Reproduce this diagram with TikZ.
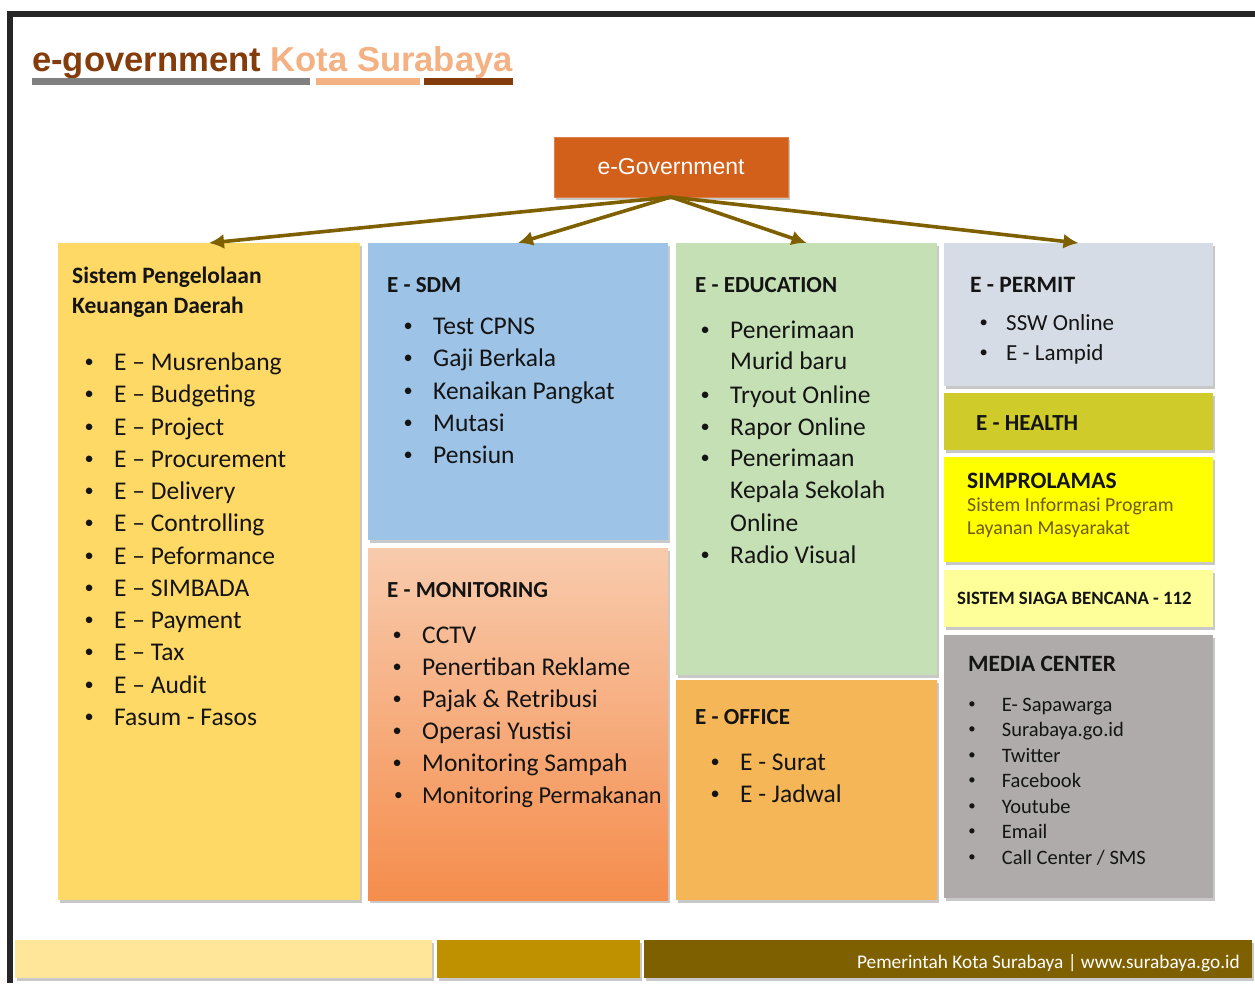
\documentclass[tikz,border=0pt]{standalone}
\usepackage{graphicx}
\usepackage{fontspec}
\setmainfont{Carlito}
\newfontfamily\arialfont{Liberation Sans}
\usetikzlibrary{arrows.meta,positioning,shadows}

\definecolor{frameC}{HTML}{262626}
\definecolor{titleA}{HTML}{843C0C}
\definecolor{titleB}{HTML}{F4B183}
\definecolor{barGray}{HTML}{808080}
\definecolor{egovC}{HTML}{D2601A}
\definecolor{arrowC}{HTML}{7F6000}
\definecolor{keuC}{HTML}{FFD966}
\definecolor{sdmC}{HTML}{9DC3E6}
\definecolor{monTop}{HTML}{F8CBAD}
\definecolor{monBot}{HTML}{F58D4C}
\definecolor{eduC}{HTML}{C5E0B4}
\definecolor{offC}{HTML}{F4B657}
\definecolor{permC}{HTML}{D6DCE5}
\definecolor{healthC}{HTML}{CFCB2A}
\definecolor{simC}{HTML}{FFFF00}
\definecolor{simT}{HTML}{6E5A12}
\definecolor{siagaC}{HTML}{FFFF99}
\definecolor{mediaC}{HTML}{AFABAB}
\definecolor{footA}{HTML}{FFE699}
\definecolor{footB}{HTML}{BF9000}
\definecolor{footC}{HTML}{7F6000}
\definecolor{txt}{HTML}{141414}

\newcommand{\bul}[1][0.8em]{\llap{\raisebox{0.1em}{\scalebox{0.72}{\textbullet}}\hspace{#1}}}

\begin{document}
\begin{tikzpicture}[x=1pt,y=-1pt,
    box/.style={anchor=north west,inner sep=0pt,outer sep=0pt,
      drop shadow={shadow xshift=1.5pt,shadow yshift=-2.5pt,opacity=0.3,fill=black!70}},
    bar/.style={anchor=north west,inner sep=0pt,outer sep=0pt,minimum height=7pt},
    hdr/.style={anchor=base west,inner sep=0pt,text=txt,font=\fontsize{23}{28}\selectfont\bfseries},
    itm/.style={anchor=base west,inner sep=0pt,text=txt,font=\fontsize{25.5}{31}\selectfont},
    branch/.style={-{Latex[length=15pt,width=15pt]},line width=3.6pt,draw=arrowC}]
  \useasboundingbox[fill=white] (0,0) rectangle (1255,983);

  % frame
  \draw[line width=6pt,frameC] (10,983) -- (10,14) -- (1255,14);

  % title
  \node[anchor=base west,inner sep=0pt,font=\arialfont\bfseries\fontsize{34.6}{38}\selectfont] (title) at (32,71)
    {\textcolor{titleA}{e-government} \textcolor{titleB}{Kota Surabaya}};
  \node[bar,fill=barGray,minimum width=278pt] (bar1) at (32,78) {};
  \node[bar,fill=titleB,minimum width=104pt] (bar2) at (316,78) {};
  \node[bar,fill=titleA,minimum width=89pt] (bar3) at (424,78) {};

  % root
  \node[box,fill=egovC,draw=egovC!80!white,line width=1pt,minimum width=234pt,minimum height=60pt,
    text=white,font=\arialfont\fontsize{23}{27}\selectfont] (egov) at (554,137) {e-Government};

  % boxes
  \node[box,fill=keuC,minimum width=302pt,minimum height=657pt] (keu) at (58,243) {};
  \node[box,fill=sdmC,minimum width=300pt,minimum height=297pt] (sdm) at (368,243) {};
  \node[box,top color=monTop,bottom color=monBot,minimum width=300pt,minimum height=352pt] (mon) at (368,548) {};
  \node[box,fill=eduC,minimum width=261pt,minimum height=432pt] (edu) at (676,243) {};
  \node[box,fill=offC,minimum width=261pt,minimum height=220pt] (off) at (676,680) {};
  \node[box,fill=permC,minimum width=269pt,minimum height=143pt] (perm) at (944,243) {};
  \node[box,fill=healthC,minimum width=269pt,minimum height=57pt] (health) at (944,393) {};
  \node[box,fill=simC,minimum width=269pt,minimum height=105pt] (sim) at (944,457) {};
  \node[box,fill=siagaC,minimum width=269pt,minimum height=57pt] (siaga) at (944,570) {};
  \node[box,fill=mediaC,minimum width=269pt,minimum height=263pt] (media) at (944,635) {};

  % arrows
  \draw[branch] (egov.south) -- (keu.north);
  \draw[branch] (egov.south) -- (sdm.north);
  \draw[branch] (egov.south) -- (edu.north);
  \draw[branch] (egov.south) -- (perm.north);

  % keuangan
  \node[hdr,font=\fontsize{23.5}{28}\selectfont\bfseries] (keuH1) at (72,283) {Sistem Pengelolaan};
  \node[hdr,font=\fontsize{23.5}{28}\selectfont\bfseries] (keuH2) at (72,313) {Keuangan Daerah};
  \node[itm] (k1) at (114,370) {\bul E – Musrenbang};
  \node[itm] (k2) at (114,402) {\bul E – Budgeting};
  \node[itm] (k3) at (114,435) {\bul E – Project};
  \node[itm] (k4) at (114,467) {\bul E – Procurement};
  \node[itm] (k5) at (114,499) {\bul E – Delivery};
  \node[itm] (k6) at (114,531) {\bul E – Controlling};
  \node[itm] (k7) at (114,564) {\bul E – Peformance};
  \node[itm] (k8) at (114,596) {\bul E – SIMBADA};
  \node[itm] (k9) at (114,628) {\bul E – Payment};
  \node[itm] (k10) at (114,660) {\bul E – Tax};
  \node[itm] (k11) at (114,693) {\bul E – Audit};
  \node[itm] (k12) at (114,725) {\bul Fasum - Fasos};

  % sdm
  \node[hdr] (sdmH) at (387,292) {E - SDM};
  \node[itm] (s1) at (433,334) {\bul Test CPNS};
  \node[itm] (s2) at (433,366) {\bul Gaji Berkala};
  \node[itm] (s3) at (433,399) {\bul Kenaikan Pangkat};
  \node[itm] (s4) at (433,431) {\bul Mutasi};
  \node[itm] (s5) at (433,463) {\bul Pensiun};

  % monitoring
  \node[hdr] (monH) at (387,597) {E - MONITORING};
  \node[itm] (m1) at (422,643) {\bul CCTV};
  \node[itm] (m2) at (422,675) {\bul Penertiban Reklame};
  \node[itm] (m3) at (422,707) {\bul Pajak \& Retribusi};
  \node[itm] (m4) at (422,739) {\bul Operasi Yustisi};
  \node[itm] (m5) at (422,771) {\bul Monitoring Sampah};
  \node[itm,font=\fontsize{24.3}{31}\selectfont] (m6) at (422,803) {\bul Monitoring Permakanan};

  % education
  \node[hdr] (eduH) at (695,292) {E - EDUCATION};
  \node[itm] (e1) at (730,338) {\bul Penerimaan};
  \node[itm] (e1b) at (730,369) {Murid baru};
  \node[itm] (e2) at (730,403) {\bul Tryout Online};
  \node[itm] (e3) at (730,435) {\bul Rapor Online};
  \node[itm] (e4) at (730,466) {\bul Penerimaan};
  \node[itm] (e4b) at (730,498) {Kepala Sekolah};
  \node[itm] (e4c) at (730,531) {Online};
  \node[itm] (e5) at (730,563) {\bul Radio Visual};

  % office
  \node[hdr] (offH) at (695,724) {E - OFFICE};
  \node[itm] (o1) at (740,770) {\bul E - Surat};
  \node[itm] (o2) at (740,802) {\bul E - Jadwal};

  % permit
  \node[hdr,font=\fontsize{23.5}{28}\selectfont\bfseries] (permH) at (970,292) {E - PERMIT};
  \node[itm,font=\fontsize{23}{28}\selectfont] (p1) at (1006,330) {\bul SSW Online};
  \node[itm,font=\fontsize{23}{28}\selectfont] (p2) at (1006,360) {\bul E - Lampid};

  % health
  \node[hdr] (healthH) at (976,430) {E - HEALTH};

  % simprolamas
  \node[hdr,font=\fontsize{23.5}{28}\selectfont\bfseries] (simH) at (967,488) {SIMPROLAMAS};
  \node[itm,text=simT,font=\fontsize{19.8}{23}\selectfont] (sim1) at (967,511) {Sistem Informasi Program};
  \node[itm,text=simT,font=\fontsize{19.8}{23}\selectfont] (sim2) at (967,534) {Layanan Masyarakat};

  % siaga
  \node[hdr,font=\fontsize{18.8}{22}\selectfont\bfseries] (siagaH) at (957,604) {SISTEM SIAGA BENCANA - 112};

  % media center
  \node[hdr,font=\fontsize{23.4}{28}\selectfont\bfseries] (mediaH) at (968,671) {MEDIA CENTER};
  \node[itm,font=\fontsize{20.5}{25}\selectfont] (d1) at (997,711) {\bul[1.05em] E- Sapawarga};
  \node[itm,font=\fontsize{20.5}{25}\selectfont] (d2) at (997,736) {\bul[1.05em] Surabaya.go.id};
  \node[itm,font=\fontsize{20.5}{25}\selectfont] (d3) at (997,762) {\bul[1.05em] Twitter};
  \node[itm,font=\fontsize{20.5}{25}\selectfont] (d4) at (997,787) {\bul[1.05em] Facebook};
  \node[itm,font=\fontsize{20.5}{25}\selectfont] (d5) at (997,813) {\bul[1.05em] Youtube};
  \node[itm,font=\fontsize{20.5}{25}\selectfont] (d6) at (997,838) {\bul[1.05em] Email};
  \node[itm,font=\fontsize{20.5}{25}\selectfont] (d7) at (997,864) {\bul[1.05em] Call Center / SMS};

  % footer
  \node[box,fill=footA,minimum width=417pt,minimum height=38pt,drop shadow={opacity=0}] (foot1) at (15,940) {};
  \node[box,fill=footB,minimum width=203pt,minimum height=38pt,drop shadow={opacity=0}] (foot2) at (437,940) {};
  \node[box,fill=footC,minimum width=608pt,minimum height=38pt] (foot3) at (644,940) {};
  \node[anchor=base east,inner sep=0pt,text=white,font=\fontsize{19.3}{22}\selectfont] (footT) at (1240,968)
    {Pemerintah Kota Surabaya | www.surabaya.go.id};
\end{tikzpicture}
\end{document}
